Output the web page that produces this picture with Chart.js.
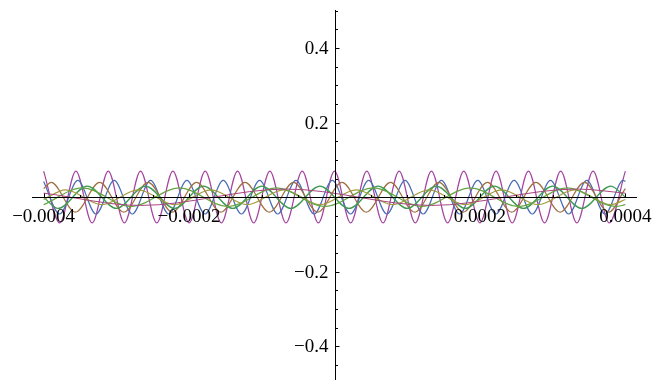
<!DOCTYPE html>
<html>
<head>
<meta charset="utf-8">
<script src="https://cdn.jsdelivr.net/npm/chart.js@4.4.0/dist/chart.umd.min.js"></script>
<style>
  html, body { margin: 0; padding: 0; background: #fff; }
</style>
</head>
<body>
<canvas id="waveChart" width="653" height="380"></canvas>
<script>
// x values are in units of 1e-5 (so 40 means 0.0004)
const pinkX = [-40, -26.67, -6.67, 13.33, 33.33, 40];
const pinkY = [0.011, -0.022, 0.022, -0.022, 0.022, 0.011];

const lightGreenX = [-40, -34.67, -28, -21.33, -14.67, -8, -1.33, 5.33, 12, 18.67, 25.33, 32, 38.67, 40];
const lightGreenY = [-0.02, 0.025, -0.025, 0.025, -0.025, 0.025, -0.025, 0.025, -0.025, 0.025, -0.025, 0.025, -0.025, -0.02];

const oliveX = [-40, -37, -32, -27, -22, -17, -12, -7, -2, 3, 8, 13, 18, 23, 28, 33, 38, 40];
const oliveY = [-0.006, 0.02, -0.02, 0.02, -0.02, 0.02, -0.02, 0.02, -0.02, 0.02, -0.02, 0.02, -0.02, 0.02, -0.02, 0.02, -0.02, -0.006];

const greenX = [-40, -38, -34, -30, -26, -22, -18, -14, -10, -6, -2, 2, 6, 10, 14, 18, 22, 26, 30, 34, 38, 40];
const greenY = [0, -0.03, 0.03, -0.03, 0.03, -0.03, 0.03, -0.03, 0.03, -0.03, 0.03, -0.03, 0.03, -0.03, 0.03, -0.03, 0.03, -0.03, 0.03, -0.03, 0.03, 0];

const brownX = [-40, -38.97, -35.63, -32.3, -28.97, -25.63, -22.3, -18.97, -15.63, -12.3, -8.97, -5.63, -2.3, 1.03, 4.37, 7.7, 11.03, 14.37, 17.7, 21.03, 24.37, 27.7, 31.03, 34.37, 37.7, 40];
const brownY = [0.023, 0.04, -0.04, 0.04, -0.04, 0.04, -0.04, 0.04, -0.04, 0.04, -0.04, 0.04, -0.04, 0.04, -0.04, 0.04, -0.04, 0.04, -0.04, 0.04, -0.04, 0.04, -0.04, 0.04, -0.04, 0.023];

const blueX = [-40, -37.8, -35.3, -32.8, -30.3, -27.8, -25.3, -22.8, -20.3, -17.8, -15.3, -12.8, -10.3, -7.8, -5.3, -2.8, -0.3, 2.2, 4.7, 7.2, 9.7, 12.2, 14.7, 17.2, 19.7, 22.2, 24.7, 27.2, 29.7, 32.2, 34.7, 37.2, 39.7, 40];
const blueY = [0.042, -0.045, 0.045, -0.045, 0.045, -0.045, 0.045, -0.045, 0.045, -0.045, 0.045, -0.045, 0.045, -0.045, 0.045, -0.045, 0.045, -0.045, 0.045, -0.045, 0.045, -0.045, 0.045, -0.045, 0.045, -0.045, 0.045, -0.045, 0.045, -0.045, 0.045, -0.045, 0.045, 0.042];

const magentaX = [-40, -37.78, -35.56, -33.33, -31.11, -28.89, -26.67, -24.44, -22.22, -20, -17.78, -15.56, -13.33, -11.11, -8.89, -6.67, -4.44, -2.22, 0, 2.22, 4.44, 6.67, 8.89, 11.11, 13.33, 15.56, 17.78, 20, 22.22, 24.44, 26.67, 28.89, 31.11, 33.33, 35.56, 37.78, 40];
const magentaY = [0.07, -0.069, 0.07, -0.069, 0.07, -0.069, 0.07, -0.069, 0.07, -0.069, 0.07, -0.069, 0.07, -0.069, 0.07, -0.069, 0.07, -0.069, 0.07, -0.069, 0.07, -0.069, 0.07, -0.069, 0.07, -0.069, 0.07, -0.069, 0.07, -0.069, 0.07, -0.069, 0.07, -0.069, 0.07, -0.069, 0.07];

const xMajorTicks = [-40, -20, 20, 40];
const xTickLabels = ['\u22120.0004', '\u22120.0002', '0.0002', '0.0004'];
const yMajorTicks = [-0.4, -0.2, 0.2, 0.4];
const yTickLabels = ['\u22120.4', '\u22120.2', '0.2', '0.4'];

function pts(xs, ys) {
    return xs.map((x, i) => ({ x: x, y: ys[i] }));
}

// Mathematica-style axes through the origin
const centerAxes = {
    id: 'centerAxes',
    afterDatasetsDraw(chart) {
        const ctx = chart.ctx;
        const xs = chart.scales.x, ys = chart.scales.y;
        const ox = Math.round(xs.getPixelForValue(0)) + 0.5;
        const oy = Math.round(ys.getPixelForValue(0)) + 0.5;
        ctx.save();
        ctx.strokeStyle = '#000';
        ctx.lineWidth = 1;
        ctx.beginPath();
        ctx.moveTo(chart.chartArea.left, oy);
        ctx.lineTo(chart.chartArea.right, oy);
        ctx.moveTo(ox, chart.chartArea.top);
        ctx.lineTo(ox, chart.chartArea.bottom);
        // x ticks, every 0.00005
        for (let v = -40; v <= 40; v += 5) {
            if (v === 0) continue;
            const px = Math.round(xs.getPixelForValue(v)) + 0.5;
            const len = (v % 20 === 0) ? 4 : 2.5;
            ctx.moveTo(px, oy);
            ctx.lineTo(px, oy - len);
        }
        // y ticks, every 0.05
        for (let k = -9; k <= 10; k++) {
            if (k === 0) continue;
            const v = k * 0.05;
            const py = Math.round(ys.getPixelForValue(v)) + 0.5;
            const len = (k % 4 === 0) ? 4 : 2.5;
            ctx.moveTo(ox, py);
            ctx.lineTo(ox + len, py);
        }
        ctx.stroke();

        ctx.fillStyle = '#000';
        ctx.font = '19px "Liberation Serif", "Times New Roman", serif';
        ctx.textAlign = 'center';
        ctx.textBaseline = 'alphabetic';
        xMajorTicks.forEach((v, i) => {
            ctx.fillText(xTickLabels[i], xs.getPixelForValue(v), oy + 24);
        });
        ctx.textAlign = 'right';
        yMajorTicks.forEach((v, i) => {
            ctx.fillText(yTickLabels[i], ox - 7, ys.getPixelForValue(v) + 6);
        });
        ctx.restore();
    }
};

const ctx = document.getElementById('waveChart').getContext('2d');

const waveChart = new Chart(ctx, {
    type: 'line',
    data: {
        datasets: [
            { data: pts(pinkX, pinkY), borderColor: '#A8457F', borderWidth: 1 },
            { data: pts(lightGreenX, lightGreenY), borderColor: '#65A544' },
            { data: pts(oliveX, oliveY), borderColor: '#A39B3F' },
            { data: pts(greenX, greenY), borderColor: '#3E9A52' },
            { data: pts(brownX, brownY), borderColor: '#9F6F3F' },
            { data: pts(blueX, blueY), borderColor: '#486CB3' },
            { data: pts(magentaX, magentaY), borderColor: '#A443A0' }
        ]
    },
    options: {
        responsive: false,
        animation: false,
        layout: { padding: { left: 32, right: 16, top: 10, bottom: 0 } },
        plugins: { legend: { display: false }, tooltip: { enabled: false } },
        elements: {
            point: { radius: 0 },
            line: { borderWidth: 1.2, cubicInterpolationMode: 'monotone', fill: false }
        },
        scales: {
            x: { type: 'linear', min: -41.6, max: 41.6, display: false },
            y: { type: 'linear', min: -0.49, max: 0.502, display: false }
        }
    },
    plugins: [centerAxes]
});
</script>
</body>
</html>
